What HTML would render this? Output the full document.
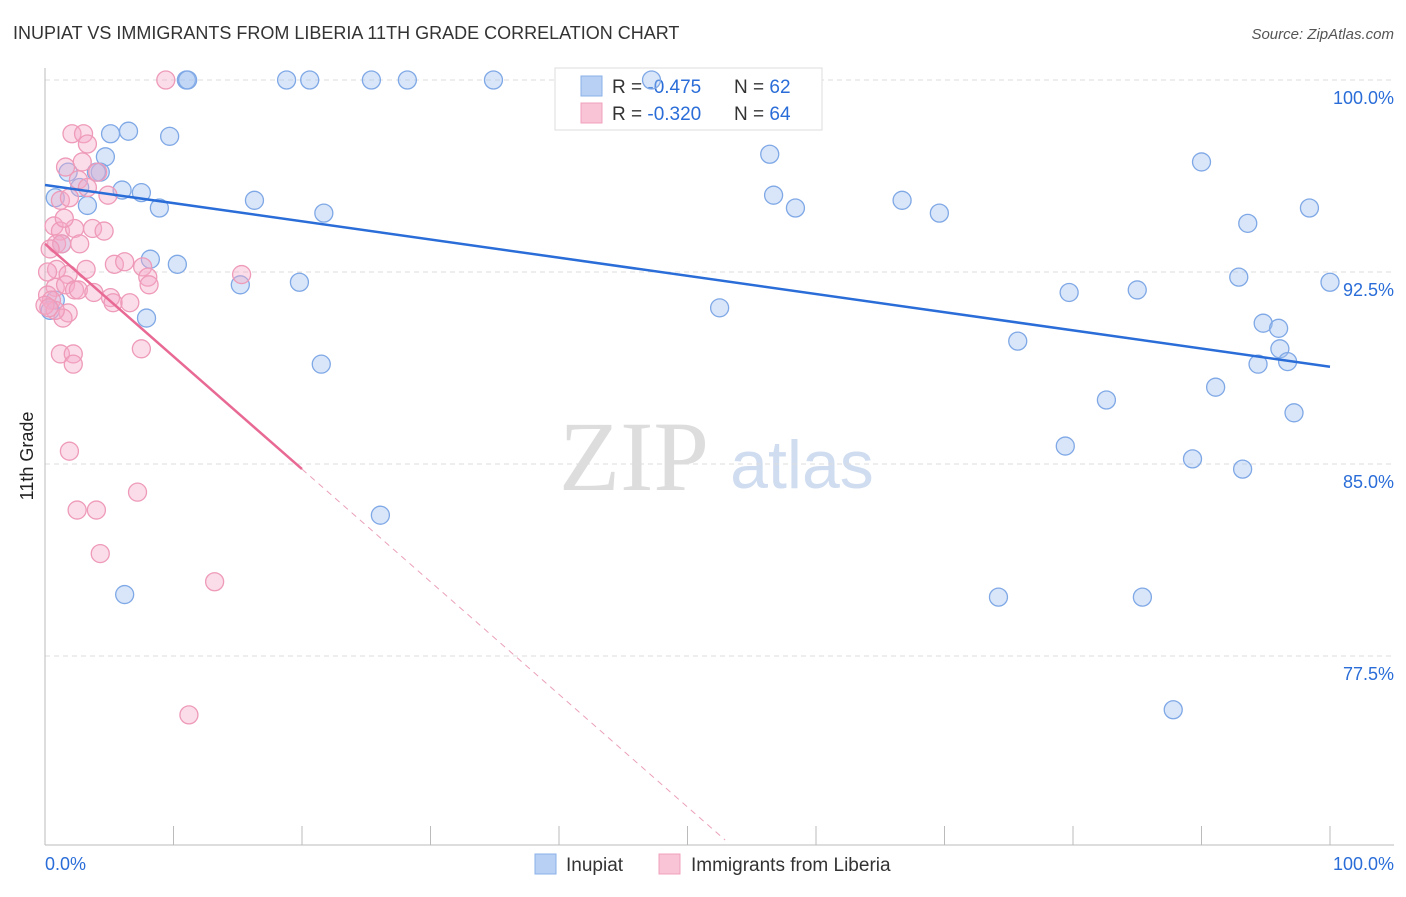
<!DOCTYPE html>
<html><head><meta charset="utf-8"><style>
body{margin:0;background:#fff;font-family:"Liberation Sans",sans-serif}
</style></head><body>
<svg id="chart" width="1406" height="892" font-family="Liberation Sans, sans-serif">
<text x="13" y="39" font-size="18" fill="#333">INUPIAT VS IMMIGRANTS FROM LIBERIA 11TH GRADE CORRELATION CHART</text>
<text x="1394" y="39" font-size="15" fill="#555" font-style="italic" text-anchor="end">Source: ZipAtlas.com</text>
<text x="33" y="456" font-size="18" fill="#222" transform="rotate(-90 33 456)" text-anchor="middle">11th Grade</text>
<g><text x="634" y="490" font-size="100" fill="#ddd" style="font-family:'Liberation Serif',serif" text-anchor="middle">ZIP</text><text x="802" y="488" font-size="68" fill="#d0ddf0" text-anchor="middle">atlas</text></g>
<g id="grid"></g><g id="axes"></g>
<g>
<rect x="555" y="68" width="267" height="62" fill="#fff" stroke="#ddd"/>
<rect x="581" y="76" width="21" height="20" fill="#b8d0f4" stroke="#8ab0e8"/>
<rect x="581" y="103" width="21" height="20" fill="#f9c4d6" stroke="#f0a0bd"/>
<text x="612" y="93" font-size="19" fill="#333">R = <tspan fill="#2a6dd8">-0.475</tspan></text>
<text x="734" y="93" font-size="19" fill="#333">N = <tspan fill="#2a6dd8">62</tspan></text>
<text x="612" y="120" font-size="19" fill="#333">R = <tspan fill="#2a6dd8">-0.320</tspan></text>
<text x="734" y="120" font-size="19" fill="#333">N = <tspan fill="#2a6dd8">64</tspan></text>
</g>
<g id="pts"></g><g id="lines"></g>
<g>
<rect x="535" y="854" width="21" height="20" fill="#b8d0f4" stroke="#8ab0e8"/>
<text x="566" y="871" font-size="19" fill="#333">Inupiat</text>
<rect x="659" y="854" width="21" height="20" fill="#f9c4d6" stroke="#f0a0bd"/>
<text x="691" y="871" font-size="19" fill="#333">Immigrants from Liberia</text>
</g>
</svg>
<script>
const yTicks=[100,92.5,85,77.5];
const yTickLabels=["100.0%","92.5%","85.0%","77.5%"];
const blueX=[11.0,11.1,18.8,20.6,25.4,28.2,34.9,47.2,6.5,5.1,9.7,4.7,1.8,4.3,4.0,2.7,6.0,7.5,0.8,8.9,16.3,21.7,3.3,1.3,8.2,10.3,15.2,19.8,7.9,21.5,26.1,6.2,56.4,56.7,58.4,66.7,69.6,90.0,93.6,98.4,100,92.9,52.5,79.7,85.0,75.7,94.8,96.0,96.1,94.4,96.7,91.1,82.6,97.2,79.4,89.3,93.2,74.2,85.4,87.8,0.8,0.4];
const blueY=[100,100,100,100,100,100,100,100,98.0,97.9,97.8,97.0,96.4,96.4,96.4,95.8,95.7,95.6,95.4,95.0,95.3,94.8,95.1,93.6,93.0,92.8,92.0,92.1,90.7,88.9,83.0,79.9,97.1,95.5,95.0,95.3,94.8,96.8,94.4,95.0,92.1,92.3,91.1,91.7,91.8,89.8,90.5,90.3,89.5,88.9,89.0,88.0,87.5,87.0,85.7,85.2,84.8,79.8,79.8,75.4,91.4,91.0];
const pinkX=[9.4,2.1,3.0,3.3,1.6,2.9,2.6,4.1,3.3,4.9,1.2,1.9,0.7,1.2,2.3,1.5,3.7,4.6,0.9,1.3,2.7,0.4,0.9,0.2,1.8,3.2,5.4,6.2,7.6,8.0,8.1,15.3,0.8,1.6,2.3,2.6,3.8,5.1,5.3,6.6,0.2,0.5,1.8,1.4,1.2,2.2,2.2,7.5,1.9,7.2,2.5,4.0,4.3,13.2,11.2,0.8,0.0,0.3];
const pinkY=[100,97.9,97.9,97.5,96.6,96.8,96.1,96.4,95.8,95.5,95.3,95.4,94.3,94.1,94.2,94.6,94.2,94.1,93.6,93.6,93.6,93.4,92.6,92.5,92.4,92.6,92.8,92.9,92.7,92.3,92.0,92.4,91.9,92.0,91.8,91.8,91.7,91.5,91.3,91.3,91.6,91.4,90.9,90.7,89.3,89.3,88.9,89.5,85.5,83.9,83.2,83.2,81.5,80.4,75.2,91.0,91.2,91.1];
const blueTrend=[95.9,88.8];
const pinkTrend=[93.6,84.8];
const pinkTrendEnd=20;
const xs=v=>45+v*12.85, ys=v=>80+(100-v)*25.6;
const NS="http://www.w3.org/2000/svg";
function mk(p,t,a){const e=document.createElementNS(NS,t);for(const k in a)e.setAttribute(k,a[k]);p.appendChild(e);return e;}
const grid=document.getElementById('grid'),axes=document.getElementById('axes'),pts=document.getElementById('pts'),lines=document.getElementById('lines');
yTicks.forEach((t,i)=>{
 const g=mk(grid,'line',{x1:45,x2:1394,y1:ys(t),y2:ys(t),stroke:'#ddd','stroke-dasharray':'5,4'});
 
 
 const l=mk(axes,'text',{x:1394,y:ys(t)+24,'font-size':18,fill:'#2a6dd8','text-anchor':'end'});l.textContent=yTickLabels[i];
 
 
});
mk(axes,'line',{x1:45,x2:45,y1:68,y2:845,stroke:'#bbb'});
mk(axes,'line',{x1:45,x2:1394,y1:845,y2:845,stroke:'#bbb'});
for(let i=0;i<=10;i++){const t=mk(axes,'line',{x1:xs(i*10),x2:xs(i*10),y1:826,y2:845,stroke:'#bbb'});
 
 }
let a=mk(axes,'text',{x:45,y:870,'font-size':18,fill:'#2a6dd8'});a.textContent='0.0%';


a=mk(axes,'text',{x:1394,y:870,'font-size':18,fill:'#2a6dd8','text-anchor':'end'});a.textContent='100.0%';


blueX.forEach((x,i)=>{const c=mk(pts,'circle',{cx:xs(x),cy:ys(blueY[i]),r:9,fill:'rgba(160,192,240,0.4)',stroke:'#7fa8e6','stroke-width':1.3});
 
 });
pinkX.forEach((x,i)=>{const c=mk(pts,'circle',{cx:xs(x),cy:ys(pinkY[i]),r:9,fill:'rgba(245,170,200,0.4)',stroke:'#ee9ab8','stroke-width':1.3});
 
 });
let L=mk(lines,'line',{x1:xs(0),y1:ys(blueTrend[0]),x2:xs(100),y2:ys(blueTrend[1]),stroke:'#2a6dd8','stroke-width':2.5});


L=mk(lines,'line',{x1:xs(0),y1:ys(pinkTrend[0]),x2:xs(pinkTrendEnd),y2:ys(pinkTrend[1]),stroke:'#e86a94','stroke-width':2.5});


const slope=(pinkTrend[1]-pinkTrend[0])/pinkTrendEnd;
const yBottom=100-(840-80)/25.6;
const endX=Math.min(100,(pinkTrend[0]-yBottom)/(-slope));
L=mk(lines,'line',{x1:xs(pinkTrendEnd),y1:ys(pinkTrend[1]),x2:xs(endX),y2:ys(pinkTrend[0]+slope*endX),stroke:'#eaa0ba','stroke-width':1,'stroke-dasharray':'6,5'});


</script>
</body></html>
